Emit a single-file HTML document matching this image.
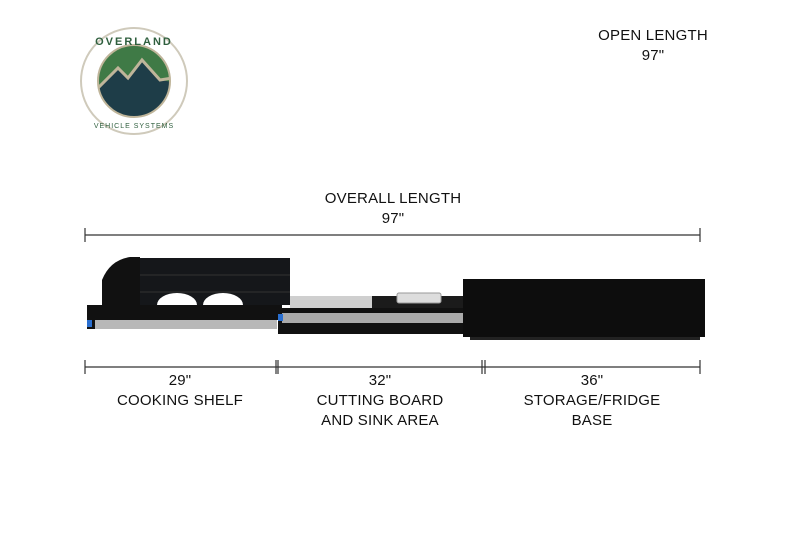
<!DOCTYPE html><html><head><style>
body{margin:0;width:800px;height:540px;background:#fff;overflow:hidden;position:relative;font-family:"Liberation Sans",sans-serif;color:#111}
.t{position:absolute;font-size:15px;text-align:center;letter-spacing:0.2px;line-height:20px;transform:translateX(-50%);white-space:nowrap}
</style></head><body>
<svg width="800" height="540" style="position:absolute;left:0;top:0">
<defs><clipPath id="c"><circle cx="134" cy="81" r="36"/></clipPath></defs>
<g>
<circle cx="134" cy="81" r="53" fill="#fff" stroke="#cfcabb" stroke-width="2"/>
<g clip-path="url(#c)">
<rect x="96" y="43" width="76" height="76" fill="#1e3d48"/>
<path d="M96 43 H172 V82 L160 80 L142 62 L128 78 L118 68 L96 90Z" fill="#3f7a46"/>
<path d="M96 90 L118 68 L128 78 L142 60 L160 80 L172 78" fill="none" stroke="#bfb59a" stroke-width="3"/>
</g>
<circle cx="134" cy="81" r="36" fill="none" stroke="#bfb59a" stroke-width="2"/>
<text x="134" y="45" text-anchor="middle" font-size="11" font-weight="bold" fill="#2f5f3e" letter-spacing="2" font-family="Liberation Sans">OVERLAND</text>
<text x="134" y="128" text-anchor="middle" font-size="7" fill="#2f5f3e" letter-spacing="1" font-family="Liberation Sans">VEHICLE SYSTEMS</text>
</g>
<g stroke="#333" stroke-width="1.2">
<line x1="85" y1="235" x2="700" y2="235"/><line x1="85" y1="228" x2="85" y2="242"/><line x1="700" y1="228" x2="700" y2="242"/>
<line x1="85" y1="367" x2="700" y2="367"/>
<line x1="85" y1="360" x2="85" y2="374"/><line x1="276" y1="360" x2="276" y2="374"/><line x1="278" y1="360" x2="278" y2="374"/>
<line x1="482" y1="360" x2="482" y2="374"/><line x1="485" y1="360" x2="485" y2="374"/><line x1="700" y1="360" x2="700" y2="374"/>
</g>
<path d="M102 310 L102 280 Q110 260 130 257 L140 257 L140 310Z" fill="#111"/>
<rect x="140" y="258" width="150" height="47" fill="#15171a"/>
<line x1="140" y1="275" x2="290" y2="275" stroke="#333"/>
<line x1="140" y1="292" x2="290" y2="292" stroke="#333"/>
<path d="M157 305 A20 12 0 0 1 197 305Z M203 305 A20 12 0 0 1 243 305Z" fill="#fff"/>
<rect x="87" y="305" width="195" height="15" fill="#111"/>
<rect x="95" y="320" width="182" height="9" fill="#b8b8b8"/>
<rect x="87" y="320" width="8" height="9" fill="#111"/>
<rect x="87" y="320" width="5" height="7" fill="#2a6fd0"/>
<rect x="290" y="296" width="82" height="12" fill="#cfcfcf"/>
<rect x="372" y="296" width="92" height="12" fill="#1b1b1b"/>
<rect x="397" y="293" width="44" height="10" rx="2" fill="#ddd" stroke="#999"/>
<rect x="278" y="308" width="205" height="26" fill="#111"/>
<rect x="282" y="313" width="198" height="10" fill="#aaa"/>
<rect x="278" y="314" width="5" height="7" fill="#2a6fd0"/>
<rect x="463" y="279" width="242" height="58" fill="#0d0d0d"/>
<rect x="470" y="337" width="230" height="3" fill="#222"/>
</svg>
<div class="t" style="left:653px;top:26px">OPEN LENGTH<br>97"</div>
<div class="t" style="left:393px;top:189px">OVERALL LENGTH<br>97"</div>
<div class="t" style="left:180px;top:371px">29"<br>COOKING SHELF</div>
<div class="t" style="left:380px;top:371px">32"<br>CUTTING BOARD<br>AND SINK AREA</div>
<div class="t" style="left:592px;top:371px">36"<br>STORAGE/FRIDGE<br>BASE</div>
</body></html>
